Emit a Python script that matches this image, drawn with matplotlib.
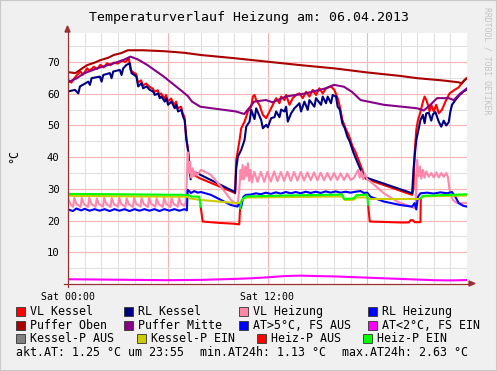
import math
import matplotlib
matplotlib.use("Agg")
import matplotlib.pyplot as plt
from matplotlib.lines import Line2D
from matplotlib.patches import Rectangle, Polygon

NaN = float("nan")

title = "Temperaturverlauf Heizung am: 06.04.2013"
x_tick_hours = [0, 6, 12, 18]
x_tick_labels = ["Sat 00:00", "", "Sat 12:00", ""]
y_ticks = [10, 20, 30, 40, 50, 60, 70]

vl_kessel = [(0, 64.4), (0.2, 63.5), (0.4, 65.0), (0.55, 65.9), (0.75, 67.0), (0.9, 66.0), (1.15, 68.0),
             (1.3, 67.2), (1.55, 68.5), (1.75, 67.8), (1.95, 69.1), (2.15, 68.3), (2.35, 69.6), (2.55, 69.0),
             (2.75, 69.8), (3.0, 69.5), (3.25, 70.4), (3.45, 70.0), (3.66, 71.2), (3.76, 67.5), (3.9, 66.8),
             (4.1, 66.2), (4.2, 63.5), (4.4, 64.2), (4.5, 62.6), (4.7, 63.2), (4.9, 62.2), (5.1, 61.6),
             (5.2, 60.6), (5.4, 61.1), (5.5, 59.6), (5.6, 60.1), (5.8, 58.5), (5.9, 59.6), (6.0, 57.5),
             (6.2, 58.5), (6.4, 56.4), (6.5, 57.5), (6.6, 55.4), (6.8, 55.9), (6.9, 53.8), (7.0, 52.7),
             (7.1, 47.0), (7.2, 43.0), (7.3, 37.5), (7.4, 34.8), (7.6, 34.3), (7.9, 33.4), (10.0, 28.8),
             (10.05, 28.6), (10.12, 39.1), (10.32, 45.4), (10.42, 49.1), (10.62, 51.2), (10.82, 54.4),
             (11.02, 55.9), (11.12, 59.1), (11.22, 59.6), (11.32, 58.0), (11.52, 56.4), (11.72, 53.3),
             (11.92, 52.3), (12.12, 54.4), (12.32, 56.5), (12.52, 58.6), (12.72, 57.0), (12.82, 59.1),
             (13.02, 58.0), (13.12, 59.6), (13.32, 56.5), (13.52, 58.6), (13.72, 59.6), (13.92, 60.1),
             (14.12, 58.6), (14.32, 60.6), (14.52, 59.1), (14.72, 61.2), (14.92, 59.6), (15.12, 61.7),
             (15.32, 60.1), (15.52, 61.7), (15.82, 62.3), (16.02, 61.2), (16.22, 58.6), (16.35, 56.0),
             (16.5, 51.8), (16.7, 49.0), (16.9, 46.8), (17.1, 43.6), (17.3, 41.5), (17.5, 38.8),
             (17.7, 36.0), (17.9, 33.2), (20.7, 28.1), (20.78, 30.0), (20.85, 41.2), (20.95, 48.6),
             (21.05, 51.7), (21.15, 53.3), (21.35, 57.5), (21.45, 59.1), (21.55, 58.0), (21.65, 56.5),
             (21.75, 54.5), (21.85, 56.5), (22.0, 54.4), (22.15, 56.5), (22.3, 53.8), (22.5, 55.0),
             (22.7, 57.5), (22.95, 60.1), (23.25, 61.2), (23.5, 62.0), (23.7, 63.5), (23.95, 64.8)]

rl_kessel = [(0.0, 60.7), (0.42, 61.2), (0.62, 60.1), (0.72, 62.3), (1.22, 63.8), (1.32, 62.8), (1.42, 64.9),
             (1.92, 65.4), (2.02, 63.8), (2.12, 65.9), (2.52, 66.5), (2.62, 64.9), (2.72, 67.0), (3.12, 67.5),
             (3.22, 65.9), (3.32, 68.0), (3.52, 69.1), (3.72, 69.6), (3.82, 66.5), (4.12, 65.4), (4.22, 62.3),
             (4.42, 63.3), (4.52, 61.7), (4.72, 62.3), (4.92, 61.2), (5.12, 60.7), (5.22, 59.6), (5.42, 60.1),
             (5.52, 58.6), (5.62, 59.1), (5.82, 57.5), (5.92, 58.6), (6.02, 56.5), (6.22, 57.5), (6.42, 55.4),
             (6.52, 56.5), (6.62, 54.4), (6.82, 54.9), (6.92, 52.8), (7.02, 51.7), (7.12, 45.4), (7.22, 42.3),
             (7.3, 37.0), (7.38, 33.0), (7.45, 35.8), (7.6, 35.3), (7.9, 34.6), (10.0, 29.1), (10.05, 28.8),
             (10.12, 36.5), (10.22, 40.2), (10.42, 42.3), (10.62, 45.4), (10.72, 49.6), (10.92, 51.2),
             (11.02, 54.9), (11.22, 52.0), (11.32, 55.4), (11.62, 51.7), (11.72, 49.1), (11.92, 50.2),
             (12.02, 49.4), (12.22, 52.3), (12.42, 52.6), (12.52, 54.4), (12.72, 52.6), (12.82, 55.0),
             (13.02, 54.4), (13.12, 55.9), (13.22, 51.2), (13.42, 53.8), (13.62, 55.4), (13.72, 55.9),
             (13.92, 57.0), (14.02, 54.4), (14.22, 57.5), (14.42, 54.9), (14.52, 58.0), (14.82, 55.9),
             (14.92, 58.6), (15.22, 56.5), (15.32, 59.1), (15.52, 57.0), (15.62, 59.1), (15.82, 57.0),
             (15.92, 59.6), (16.12, 59.1), (16.22, 55.9), (16.35, 55.0), (16.5, 50.7), (16.65, 49.1),
             (16.8, 46.5), (16.95, 44.9), (17.15, 41.7), (17.35, 39.1), (17.6, 36.0), (17.8, 33.8),
             (20.7, 28.6), (20.78, 36.0), (20.85, 40.2), (20.95, 45.4), (21.1, 49.1), (21.2, 51.7),
             (21.35, 53.3), (21.45, 50.7), (21.55, 53.8), (21.7, 54.0), (21.85, 51.5), (21.95, 53.5),
             (22.1, 54.2), (22.3, 51.2), (22.45, 49.6), (22.6, 51.5), (22.75, 50.0), (22.9, 51.0),
             (23.0, 54.4), (23.1, 56.5), (23.3, 58.0), (23.55, 59.6), (23.8, 60.7), (24.0, 61.4)]

vl_heizung = [(0.0, 27.0), (0.15, 25.2), (0.3, 24.3), (0.38, 27.2), (0.5, 25.3), (0.75, 24.3), (0.83, 27.2),
              (0.95, 25.3), (1.2, 24.3), (1.28, 27.2), (1.4, 25.3), (1.65, 24.3), (1.73, 27.0), (1.85, 25.3),
              (2.1, 24.4), (2.18, 27.2), (2.3, 25.3), (2.55, 24.3), (2.63, 27.1), (2.75, 25.3), (3.0, 24.4),
              (3.08, 27.2), (3.2, 25.3), (3.45, 24.3), (3.53, 27.0), (3.65, 25.2), (3.9, 24.3), (3.98, 27.2),
              (4.1, 25.3), (4.35, 24.4), (4.43, 27.1), (4.55, 25.3), (4.8, 24.3), (4.88, 27.2), (5.0, 25.3),
              (5.25, 24.4), (5.33, 27.0), (5.45, 25.2), (5.7, 24.3), (5.78, 27.2), (5.9, 25.3), (6.15, 24.3),
              (6.23, 27.1), (6.35, 25.3), (6.6, 24.4), (6.68, 27.2), (6.8, 25.3), (7.0, 24.6), (7.1, 26.0),
              (7.2, 41.5), (7.28, 35.0), (7.35, 38.5), (7.42, 33.5), (7.5, 36.5), (7.58, 34.0), (7.66, 35.5),
              (7.75, 34.2), (7.85, 35.0), (8.0, 36.0), (8.6, 34.4), (9.2, 30.7), (9.8, 26.5), (10.2, 24.9),
              (10.3, 29.7), (10.38, 36.0), (10.45, 33.0), (10.5, 37.5), (10.58, 33.0), (10.66, 37.0),
              (10.74, 34.0), (10.82, 38.1), (10.9, 32.5), (10.98, 36.0), (11.06, 32.0), (11.2, 35.4),
              (11.4, 32.2), (11.6, 35.4), (11.8, 32.2), (12.0, 35.4), (12.2, 32.3), (12.4, 35.5), (12.6, 32.4),
              (12.8, 35.3), (13.0, 32.5), (13.2, 35.4), (13.4, 32.5), (13.6, 35.3), (13.8, 32.6), (14.0, 35.3),
              (14.2, 32.6), (14.4, 35.2), (14.6, 32.7), (14.8, 35.2), (15.0, 32.7), (15.2, 35.1), (15.4, 32.7),
              (15.6, 35.0), (15.8, 32.8), (16.0, 35.0), (16.2, 32.8), (16.4, 34.9), (16.6, 32.8), (16.8, 34.8),
              (17.0, 32.8), (17.2, 33.5), (17.45, 36.0), (17.55, 33.5), (17.65, 35.5), (17.75, 33.0),
              (17.85, 34.8), (18.0, 33.0), (18.3, 31.8), (19.0, 28.6), (19.8, 26.0), (20.6, 24.4),
              (20.9, 23.9), (21.0, 39.1), (21.1, 34.0), (21.18, 37.0), (21.25, 33.2), (21.35, 36.0),
              (21.45, 33.5), (21.55, 35.5), (21.7, 33.8), (21.85, 35.0), (22.0, 33.6), (22.15, 35.2),
              (22.3, 33.6), (22.45, 35.0), (22.6, 33.8), (22.75, 35.0), (22.85, 33.8), (22.95, 29.7),
              (23.15, 26.5), (23.4, 25.5), (24.0, 25.5)]

rl_heizung = [(0, 23.5), (0.3, 23.0), (0.5, 23.8), (0.8, 23.2), (1.0, 23.7), (1.3, 23.1), (1.6, 23.6),
              (1.9, 23.1), (2.2, 23.6), (2.5, 23.0), (2.8, 23.6), (3.1, 23.1), (3.4, 23.6), (3.7, 23.0),
              (4.0, 23.6), (4.3, 23.1), (4.6, 23.6), (4.9, 23.1), (5.2, 23.6), (5.5, 23.0), (5.8, 23.6),
              (6.1, 23.1), (6.4, 23.6), (6.7, 23.1), (7.0, 23.6), (7.15, 23.2), (7.2, 29.7), (7.4, 28.7),
              (7.6, 29.3), (7.8, 28.8), (8.0, 29.0), (8.6, 28.1), (9.2, 26.5), (9.8, 24.9), (10.2, 24.4),
              (10.3, 25.5), (10.4, 24.0), (10.55, 27.5), (10.7, 28.1), (11.0, 28.2), (11.3, 28.6),
              (11.6, 28.3), (11.9, 28.8), (12.2, 28.4), (12.5, 28.9), (12.8, 28.5), (13.1, 29.0),
              (13.4, 28.6), (13.7, 29.0), (14.0, 28.6), (14.3, 29.1), (14.6, 28.7), (14.9, 29.1),
              (15.2, 28.7), (15.5, 29.2), (15.8, 28.8), (16.1, 29.2), (16.4, 28.8), (16.7, 29.1),
              (17.0, 28.8), (17.3, 29.1), (17.6, 29.3), (17.8, 28.7), (18.0, 28.8), (18.2, 27.5),
              (19.0, 26.0), (20.0, 24.9), (20.7, 24.4), (20.85, 25.5), (20.95, 23.5), (21.05, 27.5),
              (21.2, 28.6), (21.6, 28.8), (22.0, 28.5), (22.4, 28.9), (22.8, 28.6), (23.1, 29.0),
              (23.3, 27.5), (23.5, 25.5), (23.8, 24.6), (24.0, 24.4)]

puffer_oben = [(0, 66.8), (0.45, 66.5), (0.8, 67.8), (1.15, 69.0), (1.6, 69.8), (1.95, 70.6), (2.4, 71.3),
               (2.75, 72.2), (3.2, 72.8), (3.6, 73.7), (4.5, 73.7), (5.8, 73.4), (7.0, 72.9), (8.0, 72.2),
               (10.0, 71.2), (12.0, 70.1), (14.0, 69.0), (16.0, 68.0), (18.0, 66.7), (20.0, 65.6),
               (21.0, 64.9), (22.5, 64.2), (23.5, 63.6), (23.7, 63.2), (23.8, 64.0), (24.0, 64.9)]

puffer_mitte = [(0, 63.6), (0.5, 64.8), (0.96, 66.4), (1.76, 68.0), (2.76, 69.6), (3.4, 70.8), (3.76, 71.7),
                (4.2, 70.8), (4.76, 69.1), (5.76, 65.4), (6.76, 61.2), (7.2, 59.3), (7.46, 57.5), (7.96, 55.9),
                (9.1, 55.1), (10.1, 54.4), (10.6, 53.6), (10.9, 55.5), (11.2, 57.5), (11.9, 58.0), (12.3, 57.3),
                (13.1, 59.1), (14.3, 60.1), (15.5, 61.7), (16.0, 62.8), (16.6, 62.2), (17.1, 60.5), (17.6, 58.0),
                (19.0, 56.5), (21.0, 55.4), (21.4, 54.7), (21.8, 56.5), (22.2, 58.6), (22.9, 58.6), (23.2, 58.0),
                (23.6, 60.1), (24.0, 61.7)]

aussen_temp = [(0, 1.5), (2, 1.4), (4, 1.3), (6, 1.2), (8, 1.3), (10, 1.6), (11, 1.8), (12, 2.1), (13, 2.5),
               (14, 2.63), (15, 2.5), (16, 2.4), (17, 2.2), (18, 2.0), (19, 1.8), (20, 1.6), (21, 1.4),
               (22, 1.2), (23, 1.13), (24, 1.25)]

kessel_p_ein = [(0, 27.8), (7.2, 27.5), (7.3, 27.0), (7.6, 26.8), (8.0, 26.5), (10.1, 25.5), (10.35, 25.6),
                (10.6, 27.2), (11.0, 27.3), (16.5, 27.6), (16.65, 26.5), (17.2, 26.6), (17.35, 27.3),
                (18.0, 27.3), (18.1, 26.8), (21.2, 26.8), (21.3, 27.6), (24.0, 27.9)]

heiz_p_ein = [(0, 28.4), (3.0, 28.3), (7.0, 28.1), (7.3, 28.0), (7.4, 27.6), (7.9, 27.5), (7.98, 24.4),
              (8.0, NaN),
              (10.35, 23.9), (10.45, 26.5), (10.7, 27.6), (13.0, 27.9), (16.5, 28.2), (16.6, 26.8),
              (17.2, 27.0), (17.35, 28.0), (18.0, 28.2), (18.05, 25.0),
              (18.1, NaN),
              (21.22, 27.0), (21.35, 27.8), (24.0, 28.3)]

heiz_p_aus = [(7.98, 24.4), (8.1, 19.7), (9.0, 19.3), (10.0, 19.0), (10.3, 18.8), (10.35, 23.9),
              (10.4, NaN),
              (18.05, 25.0), (18.15, 19.7), (20.0, 19.4), (20.5, 19.4), (20.6, 20.1), (20.75, 20.1),
              (20.85, 19.5), (21.2, 19.5), (21.22, 27.0)]

legend_rows = [
    [("VL Kessel", "#ff0000"), ("RL Kessel", "#000080"), ("VL Heizung", "#ff88aa"), ("RL Heizung", "#0000ff")],
    [("Puffer Oben", "#aa0000"), ("Puffer Mitte", "#880088"), ("AT>5°C, FS AUS", "#0000ff"), ("AT<2°C, FS EIN", "#ff00ff")],
    [("Kessel-P AUS", "#808080"), ("Kessel-P EIN", "#cccc00"), ("Heiz-P AUS", "#ff0000"), ("Heiz-P EIN", "#00ff00")],
]
stats = ["akt.AT: 1.25 °C um 23:55", "min.AT24h: 1.13 °C", "max.AT24h: 2.63 °C"]

# ---------------- layout ----------------
W, H = 497, 371
plt.rcParams["font.family"] = ["DejaVu Sans Mono"]
fig = plt.figure(figsize=(W / 100, H / 100), dpi=100, facecolor="#f0f0f0")


def fx(x):
    return x / W


def fy(y):
    return 1 - y / H


ax = fig.add_axes([fx(68), fy(284), 399 / W, (284 - 32.5) / H])
ax.set_facecolor("white")
ax.set_xlim(0, 24)
ax.set_ylim(0, 79.3)
for s in ax.spines.values():
    s.set_visible(False)

ax.set_xticks(x_tick_hours)
ax.set_xticklabels(x_tick_labels)
ax.set_xticks(range(0, 25), minor=True)
ax.set_yticks(y_ticks)
ax.set_yticks([5, 15, 25, 35, 45, 55, 65, 75], minor=True)
ax.tick_params(axis="both", which="both", length=0)
ax.tick_params(axis="x", labelsize=7.1, pad=5.5)
ax.tick_params(axis="y", labelsize=7.6, pad=6.0)
ax.grid(which="minor", color="#e0e0e0", lw=0.8)
ax.grid(which="major", color="#f7b4b4", lw=0.8)
ax.set_axisbelow(True)


def draw(series, color, lw=1.5, z=2):
    t = [p[0] for p in series]
    v = [p[1] for p in series]
    ax.plot(t, v, color=color, lw=lw, zorder=z, solid_joinstyle="round")


draw(vl_kessel, "#ff0000", z=3)
draw(rl_kessel, "#000080", z=4)
draw(vl_heizung, "#ff88aa", z=5)
draw(rl_heizung, "#0000ff", z=6)
draw(puffer_oben, "#aa0000", z=7)
draw(puffer_mitte, "#880088", z=8)
draw(aussen_temp, "#ff00ff", z=9)
draw(kessel_p_ein, "#cccc00", z=10)
draw(heiz_p_aus, "#ff0000", z=11)
draw(heiz_p_ein, "#00ff00", z=12)

# axes with arrows
axis_col = "#993333"
fig.add_artist(Line2D([fx(67.5), fx(67.5)], [fy(287), fy(31)], color=axis_col, lw=0.9))
fig.add_artist(Polygon([[fx(67.5), fy(26)], [fx(65), fy(32)], [fx(70), fy(32)]], closed=True,
                       color=axis_col, transform=fig.transFigure))
fig.add_artist(Line2D([fx(64), fx(470)], [fy(283.5), fy(283.5)], color=axis_col, lw=0.9))
fig.add_artist(Polygon([[fx(475), fy(283.5)], [fx(469), fy(281)], [fx(469), fy(286)]], closed=True,
                       color=axis_col, transform=fig.transFigure))

# title, y label, watermark
fig.text(fx(249), fy(17), title, ha="center", va="center", fontsize=9.5, color="black")
fig.text(fx(14), fy(156), "°C", rotation=90, ha="center", va="center", fontsize=8.4)
fig.text(fx(487), fy(7), "RRDTOOL / TOBI OETIKER", rotation=270, ha="center", va="top",
         fontsize=5.9, color="#c4c4c4")

# legend
row_y = [311.7, 325.2, 338.9]
sq_x = [[16, 124, 239, 368], [16, 124, 239, 368], [16, 137, 257, 363]]
for r, row in enumerate(legend_rows):
    for c, (label, col) in enumerate(row):
        x0 = sq_x[r][c]
        y0 = row_y[r]
        fig.add_artist(Rectangle((fx(x0), fy(y0 + 4.5)), 9 / W, 9 / H, transform=fig.transFigure,
                                 facecolor=col, edgecolor="#333333", lw=0.6))
        fig.text(fx(x0 + 14), fy(y0), label, ha="left", va="center", fontsize=8.4)

stat_x = [16, 200, 342]
for sx, s in zip(stat_x, stats):
    fig.text(fx(sx), fy(352.7), s, ha="left", va="center", fontsize=8.4)

# frame
fig.add_artist(Rectangle((0, 0), 1, 1, transform=fig.transFigure, fill=False, edgecolor="#c8c8c8", lw=1.5))

fig.savefig("out.png", dpi=100, facecolor=fig.get_facecolor())
